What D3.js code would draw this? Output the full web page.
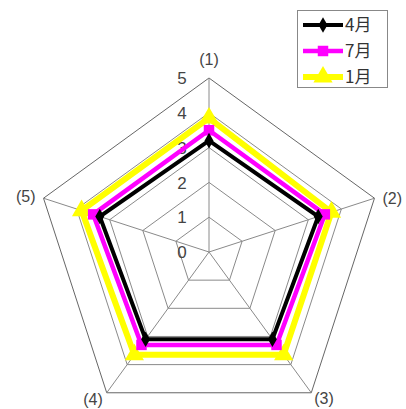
<!DOCTYPE html>
<html>
<head>
<meta charset="utf-8">
<script src="https://cdn.jsdelivr.net/npm/d3@7"></script>
<style>
  html, body { margin: 0; padding: 0; background: #fff; }
  svg { display: block; }
</style>
</head>
<body>
<svg id="chart" width="406" height="409"></svg>
<script>
// Radar chart: five survey items, three months
const axes = ["(1)", "(2)", "(3)", "(4)", "(5)"];
const seriesNames = ["4月", "7月", "1月"];
const aprValues = [3.2, 3.3, 3.1, 3.1, 3.3];
const julValues = [3.5, 3.5, 3.3, 3.3, 3.5];
const janValues = [3.85, 3.7, 3.65, 3.65, 3.85];
const tickValues = [0, 1, 2, 3, 4, 5];

const series = [
  { name: seriesNames[0], values: aprValues, color: "#000000", width: 4, shape: "diamond" },
  { name: seriesNames[1], values: julValues, color: "#ff00ff", width: 4.5, shape: "square" },
  { name: seriesNames[2], values: janValues, color: "#ffff00", width: 6, shape: "triangle" }
];

const svg = d3.select("#chart");
const cx = 209, cy = 252, R = 174;
const r = d3.scaleLinear().domain([0, 5]).range([0, R]);
const angle = d3.scaleLinear().domain([0, axes.length]).range([0, 2 * Math.PI]);

function pt(i, v) {
  const a = angle(i);
  return [cx + r(v) * Math.sin(a), cy - r(v) * Math.cos(a)];
}

// grid pentagons
const grid = svg.append("g");
tickValues.filter(t => t > 0).forEach(t => {
  grid.append("polygon")
    .attr("points", axes.map((_, i) => pt(i, t).join(",")).join(" "))
    .attr("fill", "none")
    .attr("stroke", t === 5 ? "#666" : "#8a8a8a")
    .attr("stroke-width", 1);
});
// spokes
axes.forEach((_, i) => {
  const [x, y] = pt(i, 5);
  grid.append("line")
    .attr("x1", cx).attr("y1", cy).attr("x2", x).attr("y2", y)
    .attr("stroke", "#8a8a8a").attr("stroke-width", 1);
});

// scale labels along the first axis
svg.append("g").selectAll("text").data(tickValues).join("text")
  .attr("x", cx - 27)
  .attr("y", d => cy - r(d))
  .attr("dy", "0.36em")
  .attr("text-anchor", "middle")
  .attr("font-family", "Liberation Sans, Arial, sans-serif")
  .attr("font-size", 17)
  .attr("fill", "#444")
  .text(d => d);

// axis labels
const labelPos = [
  { dx: 0, dy: -13, anchor: "middle" },
  { dx: 8, dy: 6, anchor: "start" },
  { dx: 3, dy: 11, anchor: "start" },
  { dx: -4, dy: 12, anchor: "end" },
  { dx: -8, dy: 4, anchor: "end" }
];
svg.append("g").selectAll("text").data(axes).join("text")
  .attr("x", (d, i) => pt(i, 5)[0] + labelPos[i].dx)
  .attr("y", (d, i) => pt(i, 5)[1] + labelPos[i].dy)
  .attr("text-anchor", (d, i) => labelPos[i].anchor)
  .attr("font-family", "Liberation Sans, Arial, sans-serif")
  .attr("font-size", 16)
  .attr("fill", "#444")
  .text(d => d);

const symbolOf = {
  diamond: d3.symbol().type(d3.symbolDiamond).size(70),
  square: d3.symbol().type(d3.symbolSquare).size(110),
  triangle: d3.symbol().type(d3.symbolTriangle).size(160)
};

const line = d3.line().curve(d3.curveLinearClosed);

// series drawn back to front
const plot = svg.append("g");
series.slice().reverse().forEach(s => {
  const pts = s.values.map((v, i) => pt(i, v));
  plot.append("path")
    .attr("d", line(pts))
    .attr("fill", "none")
    .attr("stroke", s.color)
    .attr("stroke-width", s.width)
    .attr("stroke-linejoin", "miter");
  plot.selectAll(null).data(pts).join("path")
    .attr("transform", d => `translate(${d[0]},${d[1]})`)
    .attr("d", symbolOf[s.shape]())
    .attr("fill", s.color);
});

// legend
const lg = svg.append("g");
lg.append("rect")
  .attr("x", 297.5).attr("y", 10.5).attr("width", 90).attr("height", 77)
  .attr("fill", "#fff").attr("stroke", "#888").attr("stroke-width", 1);
series.forEach((s, k) => {
  const y = 25 + k * 26;
  lg.append("line")
    .attr("x1", 303).attr("x2", 343).attr("y1", y).attr("y2", y)
    .attr("stroke", s.color).attr("stroke-width", s.width);
  lg.append("path")
    .attr("transform", `translate(323,${y})`)
    .attr("d", symbolOf[s.shape]())
    .attr("fill", s.color);
  lg.append("text")
    .attr("x", 345).attr("y", y).attr("dy", "0.36em")
    .attr("font-family", "Noto Sans CJK JP, sans-serif")
    .attr("font-size", 17)
    .attr("fill", "#333")
    .text(s.name);
});
</script>
</body>
</html>
